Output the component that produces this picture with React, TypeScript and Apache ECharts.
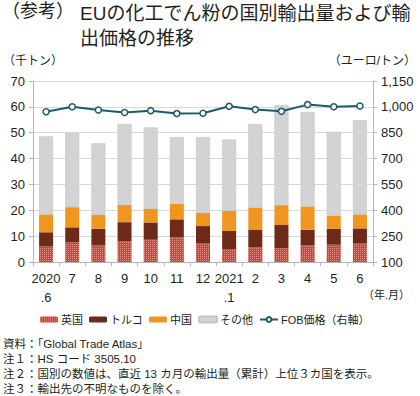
import React, { useEffect, useRef } from "react";
import * as echarts from "echarts";

const categories = ["2020\n.6", "7", "8", "9", "10", "11", "12", "2021\n.1", "2", "3", "4", "5", "6"];
// thousand tonnes
const ukValues = [6.0, 7.6, 6.6, 8.0, 8.6, 9.5, 7.1, 4.8, 5.7, 5.4, 6.4, 6.7, 7.1];
const turkeyValues = [5.5, 5.8, 6.3, 7.4, 6.7, 7.0, 6.8, 7.2, 6.9, 8.9, 6.1, 6.2, 5.9];
const chinaValues = [6.9, 7.8, 5.4, 6.7, 5.3, 6.0, 5.1, 7.8, 8.5, 7.7, 9.0, 5.0, 5.4];
const otherValues = [30.2, 28.7, 27.6, 31.3, 31.4, 25.8, 29.3, 27.6, 32.3, 38.7, 36.5, 32.4, 36.4];
// euro / tonne
const fobValues = [972, 1001, 982, 967, 978, 961, 963, 1003, 984, 974, 1013, 1001, 1005];

const leftTicks = { min: 0, max: 70, interval: 10 };
const rightTicks = { min: 100, max: 1150, interval: 150 };

const FONT = "'Liberation Sans', 'Noto Sans CJK JP', sans-serif";
const TXT = "#231f20";

export default function App() {
  const ref = useRef<HTMLDivElement>(null);
  useEffect(() => {
    document.body.style.margin = "0";
    const chart = echarts.init(ref.current!, null, { renderer: "svg" });
    const barBase = { type: "bar", stack: "total", barWidth: 14 };
    chart.setOption({
      animation: false,
      textStyle: { fontFamily: FONT },
      grid: { left: 33, right: 47, top: 81, bottom: 134 },
      legend: {
        left: 40,
        top: 314,
        width: 379,
        itemWidth: 18,
        itemHeight: 6,
        itemGap: 6,
        padding: 0,
        textStyle: { fontSize: 11, color: TXT, fontFamily: FONT, padding: [0, 0, 0, -2] },
        data: ["英国", "トルコ", "中国", "その他", "FOB価格（右軸）"],
      },
      xAxis: {
        type: "category",
        data: categories,
        boundaryGap: true,
        axisLine: { lineStyle: { color: "#b5b5b5" } },
        axisTick: { show: true, alignWithLabel: false, lineStyle: { color: "#b5b5b5" }, length: 4 },
        axisLabel: { color: TXT, fontSize: 13, lineHeight: 19, margin: 7, interval: 0 },
      },
      yAxis: [
        {
          type: "value",
          ...leftTicks,
          axisLine: { show: true, lineStyle: { color: "#b5b5b5" } },
          axisTick: { show: true, length: 4, lineStyle: { color: "#b5b5b5" } },
          splitLine: { lineStyle: { color: "#d9d9d9" } },
          axisLabel: { color: TXT, fontSize: 13, margin: 8 },
        },
        {
          type: "value",
          ...rightTicks,
          position: "right",
          axisLine: { show: true, lineStyle: { color: "#b5b5b5" } },
          axisTick: { show: true, length: 4, lineStyle: { color: "#b5b5b5" } },
          splitLine: { show: false },
          axisLabel: {
            color: TXT,
            fontSize: 13,
            margin: 8,
            formatter: (v: number) => v.toLocaleString("en-US"),
          },
        },
      ],
      series: [
        {
          ...barBase,
          name: "英国",
          data: ukValues,
          itemStyle: {
            color: "#c9463a",
            decal: {
              symbol: "rect",
              symbolSize: 1,
              dashArrayX: [1, 1],
              dashArrayY: [1, 1],
              color: "rgba(255,190,175,0.6)",
              rotation: 0,
            },
          },
        },
        { ...barBase, name: "トルコ", data: turkeyValues, itemStyle: { color: "#6d2a18" } },
        { ...barBase, name: "中国", data: chinaValues, itemStyle: { color: "#f0961f" } },
        {
          ...barBase,
          name: "その他",
          data: otherValues,
          itemStyle: { color: "#d3d3d3", borderColor: "#c4c4c4", borderWidth: 0.6 },
        },
        {
          type: "line",
          name: "FOB価格（右軸）",
          yAxisIndex: 1,
          data: fobValues,
          symbol: "circle",
          symbolSize: 6,
          lineStyle: { color: "#1e5a68", width: 2 },
          itemStyle: { color: "#ffffff", borderColor: "#1e5a68", borderWidth: 1.5 },
          z: 5,
        },
      ],
      graphic: [
        { type: "text", left: 2, top: 2, style: { text: "（参考）", fontSize: 18, fill: TXT, fontFamily: FONT } },
        {
          type: "text",
          left: 80,
          top: 1,
          style: {
            text: "EUの化工でん粉の国別輸出量および輸\n出価格の推移",
            fontSize: 19,
            lineHeight: 25,
            fill: TXT,
            fontFamily: FONT,
          },
        },
        { type: "text", left: 3, top: 55, style: { text: "（千トン）", fontSize: 12, fill: TXT, fontFamily: FONT } },
        { type: "text", right: 4, top: 55, style: { text: "（ユーロ/トン）", fontSize: 12, fill: TXT, fontFamily: FONT } },
        { type: "text", left: 363, top: 289, style: { text: "（年.月）", fontSize: 11, fill: TXT, fontFamily: FONT } },
        {
          type: "text",
          left: 3,
          top: 336,
          style: {
            text:
              "資料：「Global Trade Atlas」\n注１：HS コード 3505.10\n注２：国別の数値は、直近 13 カ月の輸出量（累計）上位３カ国を表示。\n注３：輸出先の不明なものを除く。",
            fontSize: 11.5,
            lineHeight: 15,
            fill: TXT,
            fontFamily: FONT,
          },
        },
      ],
    });
    return () => chart.dispose();
  }, []);
  return <div ref={ref} style={{ position: "absolute", left: 0, top: 0, width: 420, height: 396 }} />;
}
